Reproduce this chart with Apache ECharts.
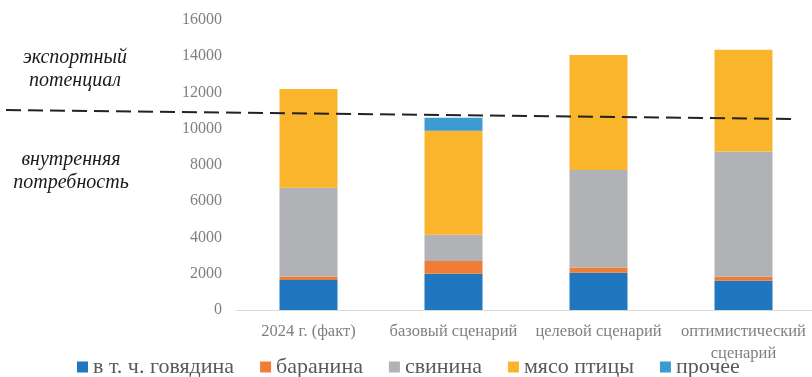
<!DOCTYPE html>
<html>
<head>
<meta charset="utf-8">
<script src="https://cdn.jsdelivr.net/npm/echarts@6/dist/echarts.min.js"></script>
<style>
  html, body { margin: 0; padding: 0; background: #fff; }
  #chart { width: 812px; height: 377px; }
</style>
</head>
<body>
<div id="chart"></div>
<script>
// Scenario categories
const categories = ['2024 г. (факт)', 'базовый сценарий', 'целевой сценарий', 'оптимистический сценарий'];

// Meat production by type, thousand tonnes
const beef    = [1650, 2000, 2060, 1620];
const mutton  = [190, 700, 280, 220];
const pork    = [4900, 1450, 5380, 6900];
const poultry = [5450, 5740, 6350, 5620];
const other   = [0, 710, 0, 0];

const seriesNames = ['в т. ч. говядина', 'баранина', 'свинина', 'мясо птицы', 'прочее'];
const seriesColors = ['#2176c0', '#f07d36', '#b1b2b5', '#fbb52c', '#3d9bd1'];

// Domestic demand threshold (value at left and right end of the dashed line)
const demandLine = [11030, 10540];

const yTicks = { min: 0, max: 16000, interval: 2000 };

const serif = '"Liberation Serif", "DejaVu Serif", serif';

const chart = echarts.init(document.getElementById('chart'), null, { renderer: 'canvas' });

const values = [beef, mutton, pork, poultry, other];

// Long category names go on two lines, split at the last space
function wrapCategory(name) {
  if (name.length <= 18) return name;
  const i = name.lastIndexOf(' ');
  return name.slice(0, i) + '\n' + name.slice(i + 1);
}

chart.setOption({
  animation: false,
  color: seriesColors,
  grid: { left: 236, right: -4, top: 20, bottom: 67, containLabel: false, outerBoundsMode: 'none' },
  legend: {
    bottom: -1,
    left: 77,
    padding: 0,
    itemWidth: 11,
    itemHeight: 11,
    itemGap: 26,
    icon: 'rect',
    textStyle: { fontFamily: serif, fontSize: 22, color: '#595959', padding: [0, 0, 0, 0] },
    data: seriesNames
  },
  xAxis: {
    type: 'category',
    data: categories,
    axisLine: { show: true, lineStyle: { color: '#d9d9d9', width: 1 } },
    axisTick: { show: false },
    axisLabel: {
      fontFamily: serif, fontSize: 16.5, color: '#7f7f7f',
      margin: 11, lineHeight: 22, interval: 0, hideOverlap: false,
      formatter: wrapCategory
    }
  },
  yAxis: {
    type: 'value',
    min: yTicks.min, max: yTicks.max, interval: yTicks.interval,
    axisLine: { show: false },
    axisTick: { show: false },
    splitLine: { show: false },
    axisLabel: { fontFamily: serif, fontSize: 16, color: '#7f7f7f', margin: 14, formatter: v => String(v) }
  },
  series: seriesNames.map((name, i) => ({
    name: name,
    type: 'bar',
    stack: 'total',
    barWidth: 58,
    data: values[i],
    itemStyle: { color: seriesColors[i] }
  }))
});

// Dashed boundary between domestic demand and export potential, plus its captions
const yLeft = chart.convertToPixel({ yAxisIndex: 0 }, demandLine[0]);
const yRight = chart.convertToPixel({ yAxisIndex: 0 }, demandLine[1]);

const captionStyle = {
  fontFamily: serif, fontSize: 20, fontStyle: 'italic',
  fill: '#1a1a1a', align: 'center', verticalAlign: 'middle', lineHeight: 23
};

chart.setOption({
  graphic: [
    {
      type: 'line',
      shape: { x1: 6, y1: yLeft, x2: 795, y2: yRight },
      style: { stroke: '#222', lineWidth: 2, lineDash: [15, 7] },
      z: 100
    },
    {
      type: 'text', x: 75, y: 69,
      style: Object.assign({ text: 'экспортный\nпотенциал' }, captionStyle)
    },
    {
      type: 'text', x: 71, y: 171,
      style: Object.assign({ text: 'внутренняя\nпотребность' }, captionStyle)
    }
  ]
});
</script>
</body>
</html>
